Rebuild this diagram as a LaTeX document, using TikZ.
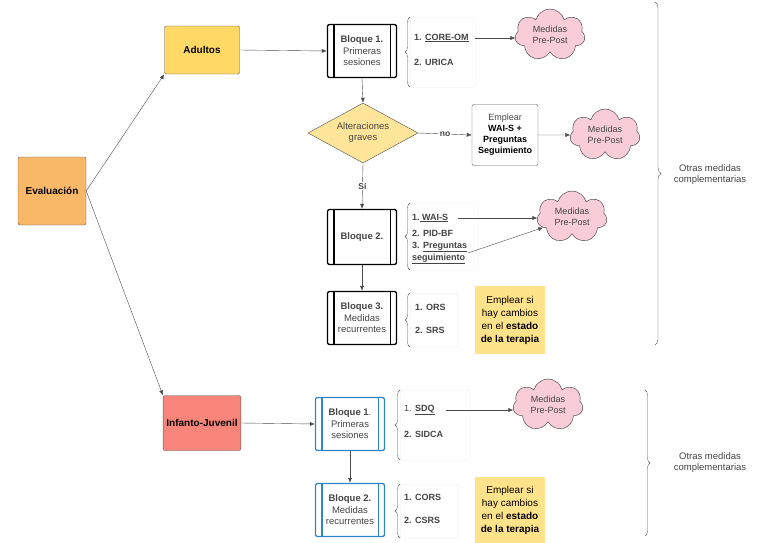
\documentclass[tikz,border=0pt]{standalone}
\usepackage{fontspec}
\setmainfont{Liberation Sans}
\usetikzlibrary{shapes.geometric,shapes.symbols,decorations.pathreplacing,arrows.meta}
\definecolor{orangeF}{HTML}{F9B868}
\definecolor{yellowF}{HTML}{FFD966}
\definecolor{redF}{HTML}{F8857A}
\definecolor{diamF}{HTML}{FFE59A}
\definecolor{pinkF}{HTML}{F8CDD8}
\definecolor{noteF}{HTML}{FFE38A}
\definecolor{blueB}{HTML}{2E86C8}
\definecolor{txtG}{HTML}{444444}
\begin{document}
\begin{tikzpicture}[x=1pt,y=-1pt,font=\fontsize{9.5}{11}\selectfont,
  main/.style={draw=gray!70!black,rounded corners=2pt,minimum width=69pt,minimum height=55pt,font=\fontsize{10}{12}\selectfont\bfseries,align=center},
  blk/.style={draw=black,line width=1.3pt,rounded corners=2pt,minimum width=69pt,minimum height=53pt,align=center,text=txtG,font=\fontsize{9.5}{11.5}\selectfont},
  bblk/.style={blk,draw=blueB},
  lst/.style={draw=gray!15,rounded corners=2pt,fill=white,anchor=north west,inner sep=0pt},
  cloudS/.style={cloud,cloud puffs=7,aspect=1.4,draw=black!80,fill=pinkF,minimum width=70pt,minimum height=52pt,align=center,text=txtG,inner sep=0pt,font=\fontsize{9}{10.5}\selectfont},
  note/.style={fill=noteF,minimum width=70pt,minimum height=68pt,align=center,inner sep=2pt,font=\fontsize{10}{13}\selectfont},
  arr/.style={draw=gray!60!black,-{Latex[length=5pt,width=4pt]}},
  br/.style={draw=gray!70!black,decorate,decoration={brace,amplitude=5pt}},
  it/.style={anchor=west,font=\fontsize{9}{10.5}\selectfont\bfseries,text=txtG,inner sep=0pt}]
\useasboundingbox (0,0) rectangle (768,543);
% main nodes
\node[main,fill=orangeF,minimum width=68pt,minimum height=68pt] (ev) at (52,191) {Evaluación};
\node[main,fill=yellowF,minimum width=75pt,minimum height=48pt] (ad) at (202,50) {Adultos};
\node[main,fill=redF,minimum width=76pt,minimum height=55pt] (ij) at (202,423) {Infanto-Juvenil};
\draw[arr] (ev.east) -- (ad.south west);
\draw[arr] (ev.east) -- (ij.north west);
% adult blocks
\node[blk] (b1) at (362,51) {\textbf{Bloque 1.}\\Primeras\\sesiones};
\node[blk,minimum height=55pt] (b2) at (362,237) {\textbf{Bloque 2.}};
\node[blk] (b3) at (362,318) {\textbf{Bloque 3.}\\Medidas\\recurrentes};
\foreach \n in {b1,b2,b3}{
  \draw[line width=1.3pt] ([xshift=7pt]\n.north west) -- ([xshift=7pt]\n.south west);
  \draw[line width=1.3pt] ([xshift=-7pt]\n.north east) -- ([xshift=-7pt]\n.south east);}
\draw[arr] (ad.east) -- (b1.west);
\node[diamond,draw=gray!60!black,fill=diamF,aspect=1.85,minimum width=110pt,minimum height=60pt,inner sep=0pt,align=center,text=txtG] (dm) at (363,133) {Alteraciones\\graves};
\draw[arr] (b1.south) -- (dm.north);
\node[draw=gray!70!black,rounded corners=2pt,minimum width=66pt,minimum height=61pt,align=center,text=black,inner sep=1pt,font=\fontsize{9}{11}\selectfont] (em) at (505,135) {{\color{txtG}Emplear}\\\textbf{WAI-S +}\\\textbf{Preguntas}\\\textbf{Seguimiento}};
\draw[arr] (dm.east) -- node[fill=white,inner sep=1pt,font=\fontsize{8.5}{9}\selectfont\bfseries,text=txtG]{no} (em.west);
\node[cloudS] (c2) at (605,135) {Medidas\\Pre-Post};
\draw[arr] (em.east) -- (c2.west);
\draw[arr] (dm.south) -- node[fill=white,inner sep=1pt,font=\fontsize{8.5}{9}\selectfont\bfseries,text=txtG]{Sí} (b2.north);
\draw[arr] (b2.south) -- (b3.north);
% lists adult
\node[lst,minimum width=65pt,minimum height=70pt] (l1) at (410,17) {};
\draw[br] (410,87) -- (410,17);
\node[it] (i11) at (414,38) {1. \underline{CORE-OM}};
\node[it] (i12) at (414,62) {2. URICA};
\node[cloudS] (c1) at (550,35) {Medidas\\Pre-Post};
\draw[arr] (l1.east|-i11) -- (c1.west|-i11);
\node[lst,minimum width=68pt,minimum height=67pt] (l2) at (410,203) {};
\draw[br] (410,270) -- (410,203);
\node[it] (i21) at (412,218) {1.\underline{ WAI-S}};
\node[it] (i22) at (412,233) {2. PID-BF};
\node[it] (i23) at (412,247) {3. \underline{Preguntas}};
\node[it] (i24) at (412,259) {\underline{seguimiento}};
\node[cloudS] (c3) at (572,217) {Medidas\\Pre-Post};
\coordinate (a1) at (458,218);
\coordinate (a2) at (468,253);
\draw[arr] (a1) -- (c3.west|-a1);
\draw[arr] (a2) -- (c3.200);
\node[lst,minimum width=48pt,minimum height=54pt] (l3) at (410,293) {};
\draw[br] (410,347) -- (410,293);
\node[it] (i31) at (415,307) {1. ORS};
\node[it] (i32) at (415,330) {2. SRS};
\node[note] (n1) at (510,320) {Emplear si\\hay cambios\\en el \textbf{estado}\\\textbf{de la terapia}};
% right braces
\draw[br,decoration={brace,amplitude=6pt}] (655,2) -- (655,345);
\node[align=center,text=txtG] (o1) at (710,175) {Otras medidas\\complementarias};
\draw[br] (645,390) -- (645,536);
\node[align=center,text=txtG] (o2) at (710,463) {Otras medidas\\complementarias};
% child blocks
\node[bblk] (k1) at (350,424) {\textbf{Bloque 1}.\\Primeras\\sesiones};
\node[bblk] (k2) at (350,510) {\textbf{Bloque 2.}\\Medidas\\recurrentes};
\foreach \n in {k1,k2}{
  \draw[line width=1.3pt,blueB] ([xshift=7pt]\n.north west) -- ([xshift=7pt]\n.south west);
  \draw[line width=1.3pt,blueB] ([xshift=-7pt]\n.north east) -- ([xshift=-7pt]\n.south east);}
\draw[arr] (ij.east) -- (k1.west);
\draw[arr] (k1.south) -- (k2.north);
\node[lst,minimum width=70pt,minimum height=70pt] (l4) at (400,390) {};
\draw[br] (400,460) -- (400,390);
\node[it] (i41) at (404,410) {{\mdseries 1.} \underline{SDQ}};
\node[it] (i42) at (404,434) {2. SIDCA};
\node[cloudS] (c4) at (548,405) {Medidas\\Pre-Post};
\coordinate (a3) at (446,410);
\draw[arr] (a3) -- (c4.west|-a3);
\node[lst,minimum width=58pt,minimum height=54pt] (l5) at (400,484) {};
\draw[br] (400,538) -- (400,484);
\node[it] (i51) at (404,497) {1. CORS};
\node[it] (i52) at (404,520) {2. CSRS};
\node[note,minimum height=66pt] (n2) at (510,510) {Emplear si\\hay cambios\\en el \textbf{estado}\\\textbf{de la terapia}};
\end{tikzpicture}
\end{document}
